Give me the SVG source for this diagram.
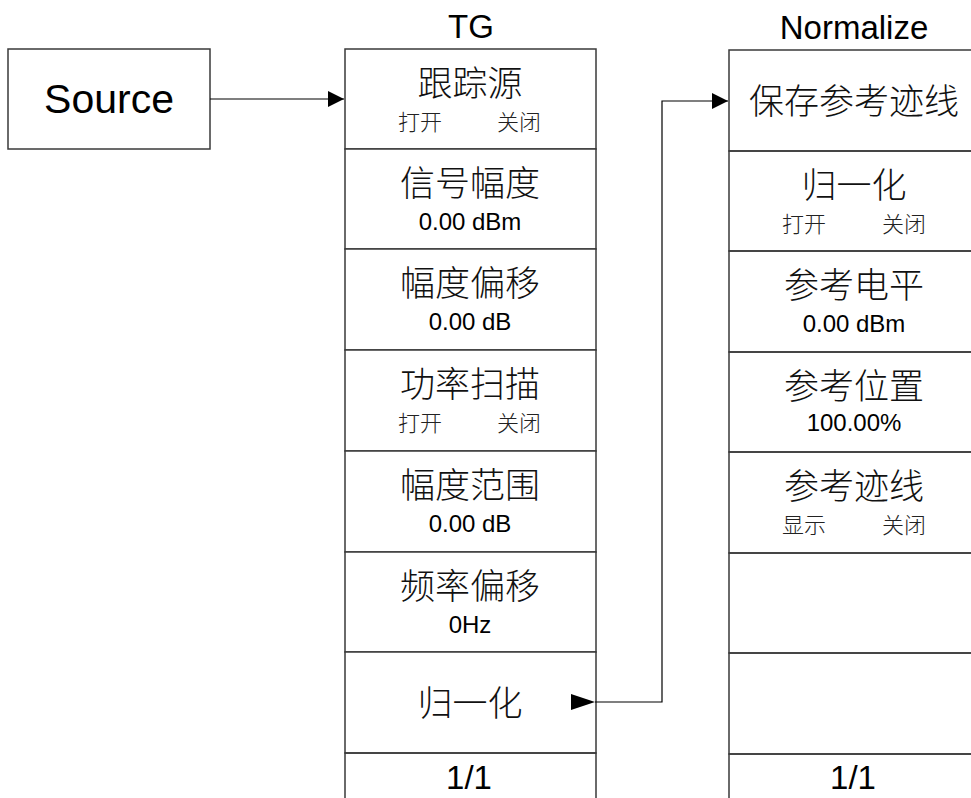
<svg xmlns="http://www.w3.org/2000/svg" width="971" height="798" viewBox="0 0 971 798">
<style>
.box{fill:#fff;stroke:#3a3a3a;stroke-width:1.5}
.edge{fill:none;stroke:#3a3a3a;stroke-width:1.5}
.title{font-family:"Liberation Sans",Arial,sans-serif;font-size:33px;fill:#000;text-anchor:middle}
.src{font-family:"Liberation Sans",Arial,sans-serif;font-size:41px;fill:#000;text-anchor:middle}
.main{font-family:"Noto Sans CJK SC","Noto Sans CJK TC",sans-serif;font-size:35px;font-weight:300;fill:#111;text-anchor:middle}
.sub{font-family:"Noto Sans CJK SC","Noto Sans CJK TC",sans-serif;font-size:22px;font-weight:300;fill:#222;text-anchor:middle}
.val{font-family:"Liberation Sans",Arial,sans-serif;font-size:24px;fill:#000;text-anchor:middle}
.conn{fill:none;stroke:#000;stroke-width:1.2}
</style>
<defs>
<marker id="arr" viewBox="0 0 16 16" refX="16" refY="8" markerWidth="16" markerHeight="16" markerUnits="userSpaceOnUse" orient="auto">
<path d="M0,0 L16,8 L0,16 Z" fill="#000"/>
</marker>
<marker id="arrL" viewBox="0 0 24 16" refX="24" refY="8" markerWidth="24" markerHeight="16" markerUnits="userSpaceOnUse" orient="auto">
<path d="M0,0 L24,8 L0,16 Z" fill="#000"/>
</marker>
</defs>
<rect width="971" height="798" fill="#fff"/>

<g id="source">
<rect class="box" x="8" y="49" width="202" height="100"/>
<text class="src" x="109" y="113">Source</text>
</g>

<g id="tg-title"><text class="title" x="471" y="38">TG</text></g>
<g id="normalize-title"><text class="title" x="854" y="39">Normalize</text></g>

<g id="tg-1">
<rect class="box" x="345" y="49" width="251" height="100"/>
<text class="main" x="470" y="96">跟踪源</text>
<text class="sub" x="420" y="130">打开</text><text class="sub" x="519" y="130">关闭</text>
</g>
<g id="tg-2">
<rect class="box" x="345" y="149" width="251" height="100"/>
<text class="main" x="470" y="196">信号幅度</text>
<text class="val" x="470" y="230">0.00 dBm</text>
</g>
<g id="tg-3">
<rect class="box" x="345" y="249" width="251" height="101"/>
<text class="main" x="470" y="296">幅度偏移</text>
<text class="val" x="470" y="330">0.00 dB</text>
</g>
<g id="tg-4">
<rect class="box" x="345" y="350" width="251" height="101"/>
<text class="main" x="470" y="397">功率扫描</text>
<text class="sub" x="420" y="431">打开</text><text class="sub" x="519" y="431">关闭</text>
</g>
<g id="tg-5">
<rect class="box" x="345" y="451" width="251" height="101"/>
<text class="main" x="470" y="498">幅度范围</text>
<text class="val" x="470" y="532">0.00 dB</text>
</g>
<g id="tg-6">
<rect class="box" x="345" y="552" width="251" height="100"/>
<text class="main" x="470" y="599">频率偏移</text>
<text class="val" x="470" y="633">0Hz</text>
</g>
<g id="tg-7">
<rect class="box" x="345" y="652" width="251" height="101"/>
<text class="main" x="470" y="716">归一化</text>
</g>
<g id="tg-8">
<path class="edge" d="M345,799 V753 H596 V799"/>
<text class="title" x="469" y="789">1/1</text>
</g>

<g id="nm-1">
<path class="edge" d="M972,50 H729 V151 H972"/>
<text class="main" x="854" y="114">保存参考迹线</text>
</g>
<g id="nm-2">
<path class="edge" d="M972,151 H729 V251 H972"/>
<text class="main" x="854" y="198">归一化</text>
<text class="sub" x="804" y="232">打开</text><text class="sub" x="904" y="232">关闭</text>
</g>
<g id="nm-3">
<path class="edge" d="M972,251 H729 V352 H972"/>
<text class="main" x="854" y="298">参考电平</text>
<text class="val" x="854" y="332">0.00 dBm</text>
</g>
<g id="nm-4">
<path class="edge" d="M972,352 H729 V452 H972"/>
<text class="main" x="854" y="399">参考位置</text>
<text class="val" x="854" y="431">100.00%</text>
</g>
<g id="nm-5">
<path class="edge" d="M972,452 H729 V553 H972"/>
<text class="main" x="854" y="499">参考迹线</text>
<text class="sub" x="804" y="533">显示</text><text class="sub" x="904" y="533">关闭</text>
</g>
<g id="nm-6">
<path class="edge" d="M972,553 H729 V653 H972"/>
</g>
<g id="nm-7">
<path class="edge" d="M972,653 H729 V754 H972"/>
</g>
<g id="nm-8">
<path class="edge" d="M972,754 H729 V799"/>
<text class="title" x="853" y="789">1/1</text>
</g>

<g id="connectors">
<path class="conn" d="M210,99 H344" marker-end="url(#arr)"/>
<path class="conn" d="M595,702 H662 V101 H728" marker-start="url(#arrL)" marker-end="url(#arr)"/>
</g>
</svg>
